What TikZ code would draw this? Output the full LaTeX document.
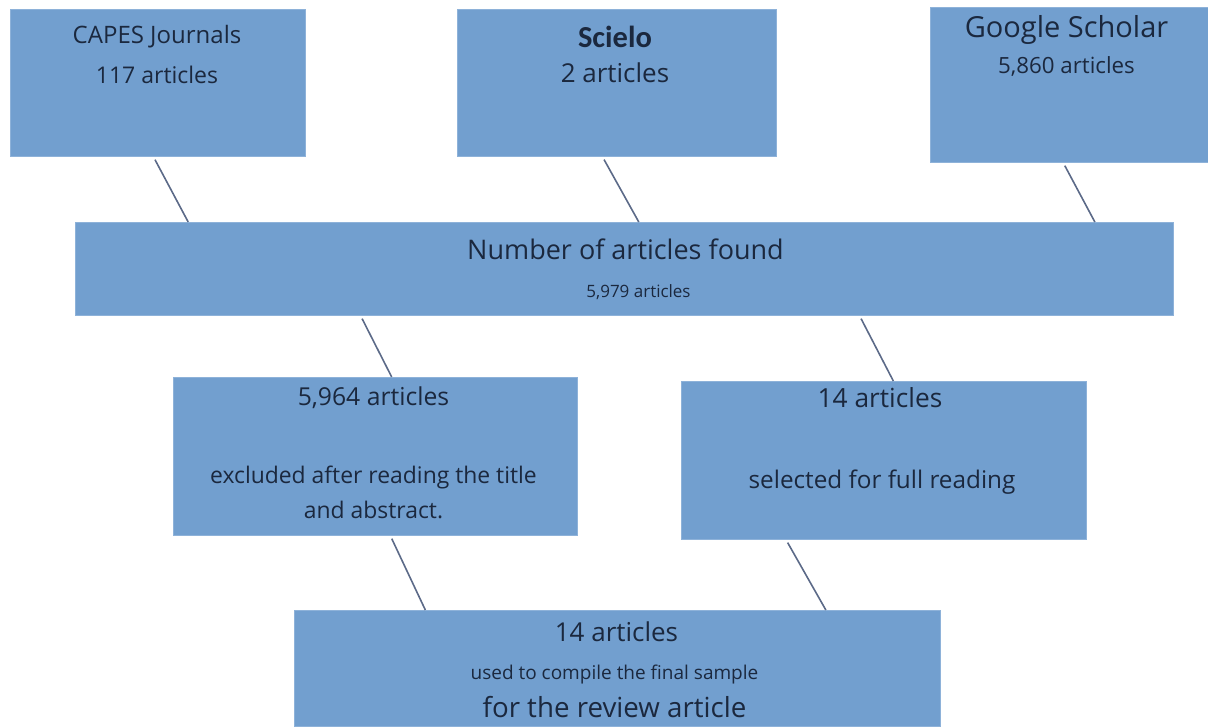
\documentclass[tikz,border=0pt]{standalone}
\usepackage{fontspec}
\setmainfont{Open Sans}
\newfontfamily\scielofont{Carlito}
\usetikzlibrary{calc}
\definecolor{boxblue}{RGB}{114,159,207}
\definecolor{inkblue}{RGB}{27,40,62}
\definecolor{linkgray}{RGB}{92,106,136}
\tikzset{every picture/.style={line width=0.75pt}}
\tikzset{
  box/.style={draw=boxblue!80!white, fill=boxblue, line width=1pt, anchor=north west, inner sep=0pt},
  txt/.style={text=inkblue, anchor=base, inner sep=0pt},
  link/.style={draw=linkgray, line width=1.6pt, shorten <=3pt},
}

\begin{document}
\begin{tikzpicture}[x=1pt,y=1pt,yscale=-1,xscale=1]
\useasboundingbox (0,0) rectangle (1208,726);

%Shape: Rectangle [sources]
\node[box, minimum width=295, minimum height=147] (capes) at (10,9) {};
\node[box, minimum width=319, minimum height=147] (scielo) at (457,9) {};
\node[box, minimum width=278, minimum height=155] (google) at (930,7) {};
%Shape: Rectangle [total]
\node[box, minimum width=1098, minimum height=93] (found) at (75,222) {};
%Shape: Rectangle [screening]
\node[box, minimum width=404, minimum height=158] (excluded) at (173,377) {};
\node[box, minimum width=405, minimum height=158] (selected) at (681,381) {};
%Shape: Rectangle [final]
\node[box, minimum width=646, minimum height=116] (final) at (294,610) {};

%Straight Lines
\draw[link] ($(capes.south west)!.485!(capes.south east)$) -- ($(found.north west)!.103!(found.north east)$);
\draw[link] ($(scielo.south west)!.455!(scielo.south east)$) -- ($(found.north west)!.513!(found.north east)$);
\draw[link] ($(google.south west)!.478!(google.south east)$) -- ($(found.north west)!.928!(found.north east)$);
\draw[link] ($(found.south west)!.260!(found.south east)$) -- ($(excluded.north west)!.540!(excluded.north east)$);
\draw[link] ($(found.south west)!.714!(found.south east)$) -- ($(selected.north west)!.523!(selected.north east)$);
\draw[link] ($(excluded.south west)!.537!(excluded.south east)$) -- ($(final.north west)!.203!(final.north east)$);
\draw[link] ($(selected.south west)!.259!(selected.south east)$) -- ($(final.north west)!.822!(final.north east)$);

% Text Node
\node[txt, font=\fontsize{24}{28}\selectfont] (capesname) at ($(capes.north)+(-1,34)$) {CAPES Journals};
% Text Node
\node[txt, font=\fontsize{23}{27}\selectfont] (capesnum) at ($(capes.north)+(-1,74)$) {117 articles};
% Text Node
\node[txt, font=\scielofont\bfseries\fontsize{30.5}{35}\selectfont] (scieloname) at ($(scielo.north)+(-2,38)$) {Scielo};
% Text Node
\node[txt, font=\fontsize{26}{31}\selectfont] (scielonum) at ($(scielo.north)+(-2,73)$) {2 articles};
% Text Node
\node[txt, font=\fontsize{29}{34}\selectfont] (googlename) at ($(google.north)+(-3,30)$) {Google Scholar};
% Text Node
\node[txt, font=\fontsize{22.3}{26}\selectfont] (googlenum) at ($(google.north)+(-3,66)$) {5,860 articles};
% Text Node
\node[txt, font=\fontsize{27}{32}\selectfont] (foundname) at ($(found.north)+(1,37)$) {Number of articles found};
% Text Node
\node[txt, font=\fontsize{17}{20}\selectfont] (foundnum) at ($(found.north)+(14,75)$) {5,979 articles};
% Text Node
\node[txt, font=\fontsize{24.7}{29}\selectfont] (excludednum) at ($(excluded.north)+(-2,28)$) {5,964 articles};
% Text Node
\node[txt, font=\fontsize{22.9}{27}\selectfont] (excludedA) at ($(excluded.north)+(-2,106)$) {excluded after reading the title};
% Text Node
\node[txt, font=\fontsize{22.9}{27}\selectfont] (excludedB) at ($(excluded.north)+(-2,141)$) {and abstract.};
% Text Node
\node[txt, font=\fontsize{26.3}{31}\selectfont] (selectednum) at ($(selected.north)+(-4,26)$) {14 articles};
% Text Node
\node[txt, font=\fontsize{24.3}{29}\selectfont] (selectedA) at ($(selected.north)+(-2,107)$) {selected for full reading};
% Text Node
\node[txt, font=\fontsize{26}{31}\selectfont] (finalnum) at ($(final.north)+(-1,31)$) {14 articles};
% Text Node
\node[txt, font=\fontsize{19}{23}\selectfont] (finalA) at ($(final.north)+(-3,69)$) {used to compile the final sample};
% Text Node
\node[txt, font=\fontsize{27.7}{33}\selectfont] (finalB) at ($(final.north)+(-3,107)$) {for the review article};

\end{tikzpicture}
\end{document}
